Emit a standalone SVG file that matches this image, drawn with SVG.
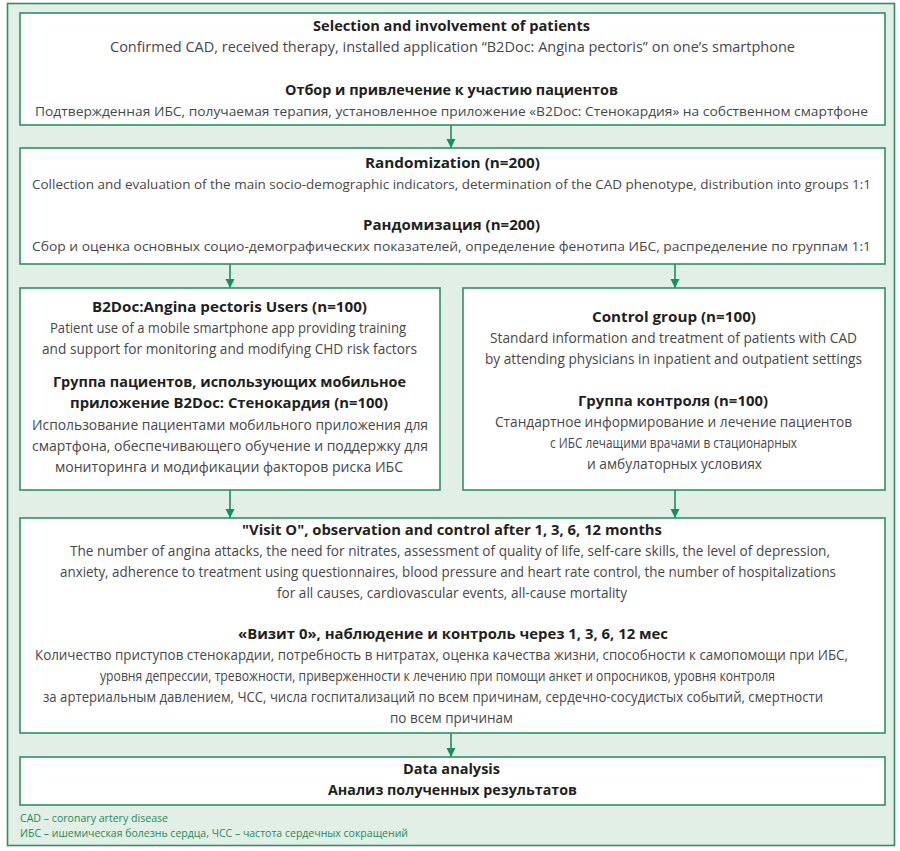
<svg xmlns="http://www.w3.org/2000/svg" width="900" height="851" viewBox="0 0 900 851">
<defs>
<marker id="ah" markerWidth="9" markerHeight="12" refX="9" refY="4.5" orient="auto" markerUnits="userSpaceOnUse" viewBox="0 0 9 9">
<path d="M0,0 L9,4.5 L0,9 z" fill="#139163"/>
</marker>
<style>
.box{fill:#ffffff;stroke:#2d9066;stroke-width:1.6}
.frame{fill:#e2efe7;stroke:#2d9066;stroke-width:1.6}
.t{font-family:"Open Sans","Noto Sans","Liberation Sans",sans-serif;font-weight:700;font-size:15px;fill:#231f20}
.b{font-family:"Open Sans","Noto Sans","Liberation Sans",sans-serif;font-weight:400;font-size:14px;fill:#474747}
.s{font-size:13.2px}
.f{font-family:"Open Sans","Noto Sans","Liberation Sans",sans-serif;font-weight:400;font-size:10px;fill:#1f8c55}
.c{stroke:#139163;stroke-width:1.6;fill:none;marker-end:url(#ah)}
</style>
</defs>
<rect class="frame" x="7.5" y="3.5" width="887" height="842"/>
<g id="connectors">
<line class="c" x1="451" y1="125" x2="451" y2="148"/>
<line class="c" x1="230" y1="264" x2="230" y2="288"/>
<line class="c" x1="675" y1="264" x2="675" y2="288"/>
<line class="c" x1="230" y1="490" x2="230" y2="518"/>
<line class="c" x1="675" y1="490" x2="675" y2="518"/>
<line class="c" x1="451" y1="733" x2="451" y2="757"/>
</g>
<g id="selection">
<rect class="box" x="20" y="13" width="865" height="112"/>
<text class="t" x="313" y="31" textLength="277" lengthAdjust="spacingAndGlyphs">Selection and involvement of patients</text>
<text class="b" x="110" y="52" textLength="685" lengthAdjust="spacingAndGlyphs">Confirmed CAD, received therapy, installed application “B2Doc: Angina pectoris” on one’s smartphone</text>
<text class="t" x="285" y="95" textLength="333" lengthAdjust="spacingAndGlyphs">Отбор и привлечение к участию пациентов</text>
<text class="b s" x="35" y="116" textLength="833" lengthAdjust="spacingAndGlyphs">Подтвержденная ИБС, получаемая терапия, установленное приложение «B2Doc: Стенокардия» на собственном смартфоне</text>
</g>
<g id="randomization">
<rect class="box" x="20" y="148" width="865" height="116"/>
<text class="t" x="365" y="168" textLength="175" lengthAdjust="spacingAndGlyphs">Randomization (n=200)</text>
<text class="b s" x="32" y="189" textLength="839" lengthAdjust="spacingAndGlyphs">Collection and evaluation of the main socio-demographic indicators, determination of the CAD phenotype, distribution into groups 1:1</text>
<text class="t" x="363" y="230" textLength="177" lengthAdjust="spacingAndGlyphs">Рандомизация (n=200)</text>
<text class="b s" x="32" y="251" textLength="839" lengthAdjust="spacingAndGlyphs">Сбор и оценка основных социо-демографических показателей, определение фенотипа ИБС, распределение по группам 1:1</text>
</g>
<g id="app-users">
<rect class="box" x="20" y="288" width="420" height="202"/>
<text class="t" x="92" y="312" textLength="275" lengthAdjust="spacingAndGlyphs">B2Doc:Angina pectoris Users (n=100)</text>
<text class="b" x="50" y="333" textLength="356" lengthAdjust="spacingAndGlyphs">Patient use of a mobile smartphone app providing training</text>
<text class="b" x="42" y="354" textLength="375" lengthAdjust="spacingAndGlyphs">and support for monitoring and modifying CHD risk factors</text>
<text class="t" x="53" y="387" textLength="353" lengthAdjust="spacingAndGlyphs">Группа пациентов, использующих мобильное</text>
<text class="t" x="70" y="408" textLength="318" lengthAdjust="spacingAndGlyphs">приложение B2Doc: Стенокардия (n=100)</text>
<text class="b" x="32" y="430" textLength="396" lengthAdjust="spacingAndGlyphs">Использование пациентами мобильного приложения для</text>
<text class="b" x="32" y="451" textLength="396" lengthAdjust="spacingAndGlyphs">смартфона, обеспечивающего обучение и поддержку для</text>
<text class="b" x="55" y="472" textLength="348" lengthAdjust="spacingAndGlyphs">мониторинга и модификации факторов риска ИБС</text>
</g>
<g id="control">
<rect class="box" x="463" y="288" width="422" height="202"/>
<text class="t" x="592" y="322" textLength="164" lengthAdjust="spacingAndGlyphs">Control group (n=100)</text>
<text class="b" x="490" y="343" textLength="367" lengthAdjust="spacingAndGlyphs">Standard information and treatment of patients with CAD</text>
<text class="b" x="485" y="364" textLength="377" lengthAdjust="spacingAndGlyphs">by attending physicians in inpatient and outpatient settings</text>
<text class="t" x="578" y="406" textLength="190" lengthAdjust="spacingAndGlyphs">Группа контроля (n=100)</text>
<text class="b" x="495" y="427" textLength="357" lengthAdjust="spacingAndGlyphs">Стандартное информирование и лечение пациентов</text>
<text class="b" x="550" y="448" textLength="247" lengthAdjust="spacingAndGlyphs">с ИБС лечащими врачами в стационарных</text>
<text class="b" x="587" y="469" textLength="175" lengthAdjust="spacingAndGlyphs">и амбулаторных условиях</text>
</g>
<g id="visit">
<rect class="box" x="20" y="518" width="865" height="215"/>
<text class="t" x="242" y="535" textLength="420" lengthAdjust="spacingAndGlyphs">"Visit O", observation and control after 1, 3, 6, 12 months</text>
<text class="b" x="70" y="556" textLength="760" lengthAdjust="spacingAndGlyphs">The number of angina attacks, the need for nitrates, assessment of quality of life, self-care skills, the level of depression,</text>
<text class="b" x="60" y="577" textLength="776" lengthAdjust="spacingAndGlyphs">anxiety, adherence to treatment using questionnaires, blood pressure and heart rate control, the number of hospitalizations</text>
<text class="b" x="277" y="598" textLength="350" lengthAdjust="spacingAndGlyphs">for all causes, cardiovascular events, all-cause mortality</text>
<text class="t" x="238" y="639" textLength="430" lengthAdjust="spacingAndGlyphs">«Визит 0», наблюдение и контроль через 1, 3, 6, 12 мес</text>
<text class="b" x="35" y="660" textLength="813" lengthAdjust="spacingAndGlyphs">Количество приступов стенокардии, потребность в нитратах, оценка качества жизни, способности к самопомощи при ИБС,</text>
<text class="b" x="100" y="681" textLength="675" lengthAdjust="spacingAndGlyphs">уровня депрессии, тревожности, приверженности к лечению при помощи анкет и опросников, уровня контроля</text>
<text class="b" x="43" y="702" textLength="780" lengthAdjust="spacingAndGlyphs">за артериальным давлением, ЧСС, числа госпитализаций по всем причинам, сердечно-сосудистых событий, смертности</text>
<text class="b" x="390" y="723" textLength="123" lengthAdjust="spacingAndGlyphs">по всем причинам</text>
</g>
<g id="analysis">
<rect class="box" x="20" y="757" width="865" height="48"/>
<text class="t" x="403" y="774" textLength="97" lengthAdjust="spacingAndGlyphs">Data analysis</text>
<text class="t" x="328" y="795" textLength="249" lengthAdjust="spacingAndGlyphs">Анализ полученных результатов</text>
</g>
<g id="footnotes">
<text class="f" x="20" y="822" textLength="148" lengthAdjust="spacingAndGlyphs">CAD – coronary artery disease</text>
<text class="f" x="20" y="837" textLength="388" lengthAdjust="spacingAndGlyphs">ИБС – ишемическая болезнь сердца, ЧСС – частота сердечных сокращений</text>
</g>
</svg>
